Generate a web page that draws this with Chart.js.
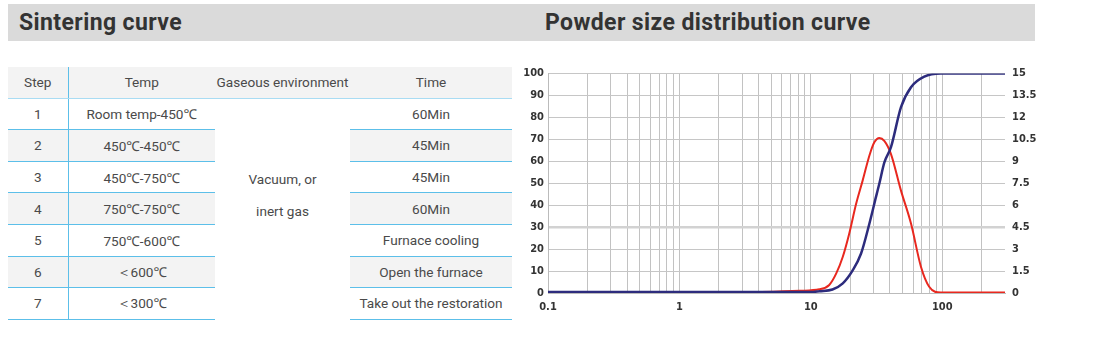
<!DOCTYPE html>
<html>
<head>
<meta charset="utf-8">
<script src="https://cdn.jsdelivr.net/npm/chart.js@4/dist/chart.umd.min.js"></script>
<style>
  body { margin: 0; width: 1100px; height: 350px; background: #fff; position: relative; overflow: hidden; font-family: Roboto, "Noto Sans", sans-serif; }
  .bar { position: absolute; left: 8px; top: 4px; width: 1027px; height: 37px; background: #dadada; }
  .title { position: absolute; top: 4px; height: 37px; line-height: 38px; font-weight: 700; font-size: 23px; letter-spacing: 0.4px; color: #333; }
  #sinter { position: absolute; left: 8px; top: 67px; border-collapse: collapse; table-layout: fixed; font-size: 13.6px; color: #4a4a4a; }
  #sinter td { padding: 0; text-align: center; white-space: nowrap; height: 30.6px; }
  #sinter tr.head td { background: #f3f3f3; border-bottom: 1px solid #a9dcf3; }
  #sinter td.line { border-bottom: 1px solid #5cbfe9; }
  #sinter td.first { border-right: 1px solid #5cbfe9; }
  #sinter tr.grey td.line { background: #f3f3f3; }
  #sinter td.gas { vertical-align: top; padding-top: 64px; line-height: 32px; background: #fff; }
  #psd { position: absolute; left: 515px; top: 60px; }
</style>
</head>
<body>
<div class="bar"></div>
<div class="title" style="left:19px">Sintering curve</div>
<div class="title" style="left:545px">Powder size distribution curve</div>
<table id="sinter">
  <colgroup><col style="width:60px"><col style="width:147px"><col style="width:135px"><col style="width:162px"></colgroup>
  <tbody id="sinter-body"></tbody>
</table>
<canvas id="psd" width="530" height="260"></canvas>
<script>
// sintering table
var headers = ["Step", "Temp", "Gaseous environment", "Time"];
var steps = ["1", "2", "3", "4", "5", "6", "7"];
var temps = ["Room temp-450\u2103", "450\u2103-450\u2103", "450\u2103-750\u2103", "750\u2103-750\u2103", "750\u2103-600\u2103", "\uff1c600\u2103", "\uff1c300\u2103"];
var gasLines = ["Vacuum, or", "inert gas"];
var times = ["60Min", "45Min", "45Min", "60Min", "Furnace cooling", "Open the furnace", "Take out the restoration"];

// powder size distribution (size in um, log axis)
var cumSizes = [0.1, 10, 11.6, 14.6, 17.5, 20.8, 24.1, 27.9, 31.3, 33.2, 36.2, 40.7, 48.5, 57.8, 72.9, 97.5, 300];
var cumValues = [0.4, 0.4, 0.8, 1.6, 4.4, 10.3, 18, 31.7, 43.8, 49.9, 59.4, 66.5, 84.7, 93.8, 98.6, 100, 100];
var freqSizes = [3.0, 8.2, 11.6, 13.8, 15.6, 17.5, 19.6, 22.1, 24.8, 27.9, 30.4, 33.2, 36.2, 40.7, 48.5, 57.8, 68.8, 79.5, 97.5, 300];
var freqValues = [0.03, 0.15, 0.25, 0.55, 1.34, 2.48, 4.07, 6.1, 7.7, 9.4, 10.3, 10.6, 10.4, 9.5, 7.0, 4.75, 1.8, 0.43, 0.03, 0.03];
var gridSizes = [0.1, 0.2, 0.3, 0.4, 0.5, 0.6, 0.7, 0.8, 0.9, 1, 2, 3, 4, 5, 6, 7, 8, 9, 10, 20, 30, 40, 50, 60, 70, 80, 90, 100, 200, 300];
var xLabels = [0.1, 1, 10, 100];

document.addEventListener("DOMContentLoaded", function() {
  var body = document.getElementById("sinter-body");

  var headRow = body.insertRow(-1);
  headRow.className = "head";
  for (var i = 0; i < headers.length; i++) {
    var th = headRow.insertCell(-1);
    th.textContent = headers[i];
    if (i === 0) th.className = "first";
  }

  for (var r = 0; r < steps.length; r++) {
    var row = body.insertRow(-1);
    if (r % 2 === 1) row.className = "grey";
    var c1 = row.insertCell(-1);
    c1.className = "line first";
    c1.textContent = steps[r];
    var c2 = row.insertCell(-1);
    c2.className = "line";
    c2.textContent = temps[r];
    if (r === 0) {
      var gas = row.insertCell(-1);
      gas.className = "gas";
      gas.rowSpan = steps.length;
      gas.innerHTML = gasLines.join("<br>");
    }
    var c4 = row.insertCell(-1);
    c4.className = "line";
    c4.textContent = times[r];
  }

  var cumPoints = cumSizes.map(function(s, i) { return { x: s, y: cumValues[i] }; });
  var freqPoints = freqSizes.map(function(s, i) { return { x: s, y: freqValues[i] }; });

  var tickFont = { family: "'Liberation Sans Narrow', 'DejaVu Sans Condensed', sans-serif", size: 11, weight: "bold" };

  var ctx = document.getElementById("psd").getContext("2d");
  new Chart(ctx, {
    type: "line",
    data: {
      datasets: [{
        label: "Cumulative",
        data: cumPoints,
        yAxisID: "y",
        borderColor: "#2d2c7d",
        borderWidth: 2.5,
        pointRadius: 0,
        cubicInterpolationMode: "monotone"
      }, {
        label: "Frequency",
        data: freqPoints,
        yAxisID: "y1",
        borderColor: "#e8281f",
        borderWidth: 2,
        pointRadius: 0,
        cubicInterpolationMode: "monotone"
      }]
    },
    options: {
      responsive: false,
      animation: false,
      layout: { padding: { top: 13, left: 0, right: 0, bottom: 0 } },
      plugins: { legend: { display: false }, tooltip: { enabled: false } },
      scales: {
        x: {
          type: "logarithmic",
          min: 0.1,
          max: 300,
          afterBuildTicks: function(axis) {
            axis.ticks = gridSizes.map(function(v) { return { value: v }; });
          },
          afterFit: function(axis) { axis.height = 27; },
          border: { color: "#bbbbbb" },
          grid: {
            drawTicks: false,
            color: function(c) {
              return c.tick && c.tick.value === 300 ? "rgba(0,0,0,0)" : "#c2c2c2";
            }
          },
          ticks: {
            autoSkip: false,
            maxRotation: 0,
            padding: 8,
            color: "#333",
            font: tickFont,
            callback: function(value) {
              return xLabels.indexOf(value) >= 0 ? String(value) : "";
            }
          }
        },
        y: {
          position: "left",
          min: 0,
          max: 100,
          afterFit: function(axis) { axis.width = 33; },
          border: { color: "#bbbbbb" },
          grid: {
            drawTicks: false,
            color: function(c) { return c.tick && c.tick.value === 30 ? "#d2d2d2" : "#c6c6c6"; },
            lineWidth: function(c) { return c.tick && c.tick.value === 30 ? 2.5 : 1; }
          },
          ticks: { stepSize: 10, padding: 4, color: "#333", font: tickFont }
        },
        y1: {
          position: "right",
          min: 0,
          max: 15,
          afterFit: function(axis) { axis.width = 40; },
          border: { display: false },
          grid: { drawOnChartArea: false, drawTicks: false },
          ticks: { stepSize: 1.5, padding: 7, color: "#333", font: tickFont }
        }
      }
    }
  });
});
</script>
</body>
</html>
